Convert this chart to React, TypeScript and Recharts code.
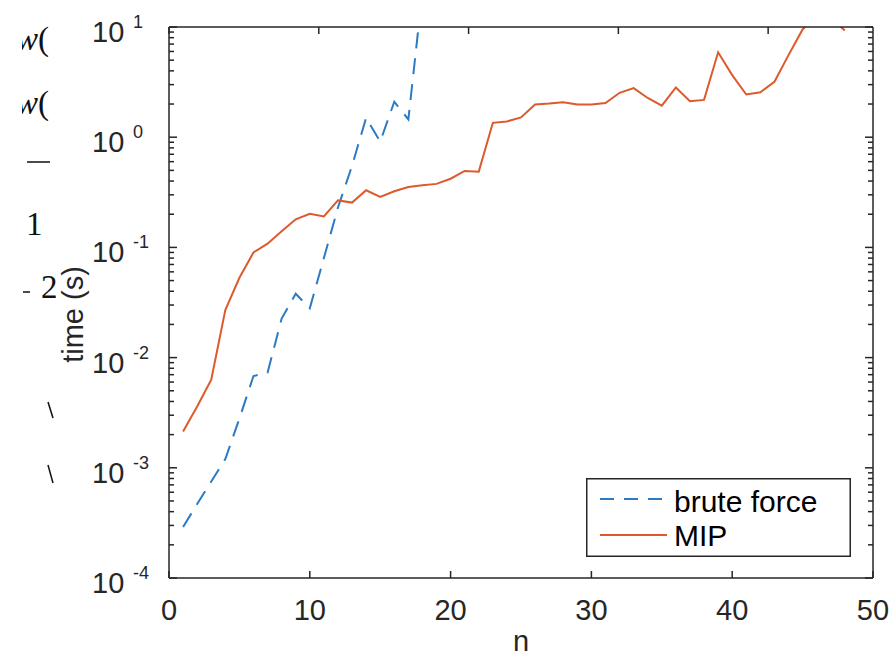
import { LineChart, Line, XAxis, YAxis, Legend } from "recharts";

const INK = "#262626";
const BLUE = "#2b7bc4";
const ORANGE = "#dc5a2c";
const FONT = "'Liberation Sans', Arial, Helvetica, sans-serif";

// problem size n
const N_BRUTE = [1, 2, 3, 4, 5, 6, 7, 8, 9, 10, 11, 12, 13, 14, 15, 16, 17, 18];
const N_MIP = [
  1, 2, 3, 4, 5, 6, 7, 8, 9, 10, 11, 12, 13, 14, 15, 16, 17, 18, 19, 20, 21, 22, 23, 24,
  25, 26, 27, 28, 29, 30, 31, 32, 33, 34, 35, 36, 37, 38, 39, 40, 41, 42, 43, 44, 45, 46, 47, 48,
];

// time (s)
const BRUTE_FORCE = [
  0.00029, 0.00047, 0.00075, 0.0012, 0.0028, 0.0068, 0.0073, 0.0226, 0.038, 0.028, 0.08,
  0.23, 0.55, 1.5, 0.91, 2.1, 1.45, 21,
];
const MIP = [
  0.00214, 0.0036, 0.0063, 0.027, 0.053, 0.09, 0.108, 0.14, 0.18, 0.202, 0.191, 0.267, 0.255,
  0.33, 0.287, 0.323, 0.353, 0.366, 0.377, 0.42, 0.494, 0.487, 1.35, 1.39, 1.51, 1.98, 2.02,
  2.08, 1.98, 1.98, 2.04, 2.53, 2.79, 2.27, 1.93, 2.83, 2.12, 2.18, 5.89, 3.66, 2.44, 2.56,
  3.18, 5.56, 9.5, 13, 12, 9.3,
];

const X_TICKS = [0, 10, 20, 30, 40, 50];
const Y_DECADES = [1e-4, 1e-3, 1e-2, 1e-1, 1, 10];
const Y_MINOR = [2, 3, 4, 5, 6, 7, 8, 9];
const Y_TICKS = Y_DECADES.flatMap((d, i) =>
  i < Y_DECADES.length - 1 ? [d, ...Y_MINOR.map((k) => k * d)] : [d]
);

const rows = N_MIP.map((n, i) => ({
  n,
  mip: MIP[i],
  brute: N_BRUTE.indexOf(n) >= 0 ? BRUTE_FORCE[N_BRUTE.indexOf(n)] : undefined,
}));

const SERIES = [
  { key: "brute", name: "brute force", color: BLUE, dash: "16 10" },
  { key: "mip", name: "MIP", color: ORANGE, dash: undefined },
];

function decadeOf(v: number) {
  const l = Math.log10(v);
  return Math.abs(l - Math.round(l)) < 1e-6 ? Math.round(l) : null;
}

const TICK_W = 1.5;

function BottomTick({ x, y, payload }: any) {
  return (
    <g>
      <line x1={x} y1={y} x2={x} y2={y - 7} stroke={INK} strokeWidth={TICK_W} />
      <text x={x} y={y + 42} textAnchor="middle" fontSize={29} fill={INK} fontFamily={FONT}>
        {payload.value}
      </text>
    </g>
  );
}

function TopTick({ x, y }: any) {
  return <line x1={x} y1={y} x2={x} y2={y + 7} stroke={INK} strokeWidth={TICK_W} />;
}

function LeftTick({ x, y, payload }: any) {
  const e = decadeOf(payload.value);
  const len = e === null ? 5 : 8;
  return (
    <g>
      <line x1={x} y1={y} x2={x + len} y2={y} stroke={INK} strokeWidth={TICK_W} />
      {e !== null && (
        <text fill={INK} fontFamily={FONT}>
          <tspan x={92} y={y + 15} fontSize={29}>
            10
          </tspan>
          <tspan x={133} y={y + 1} fontSize={18}>
            {String(e)}
          </tspan>
        </text>
      )}
    </g>
  );
}

function RightTick({ x, y, payload }: any) {
  const len = decadeOf(payload.value) === null ? 5 : 8;
  return <line x1={x} y1={y} x2={x - len} y2={y} stroke={INK} strokeWidth={TICK_W} />;
}

function LegendBox() {
  return (
    <svg width={265} height={79} style={{ display: "block" }}>
      <rect x={0.75} y={0.75} width={263.5} height={77.5} fill="#fff" stroke={INK} strokeWidth={1.5} />
      {SERIES.map((s, i) => (
        <g key={s.key}>
          <line
            x1={14}
            x2={81}
            y1={21 + i * 36}
            y2={21 + i * 36}
            stroke={s.color}
            strokeWidth={2}
            strokeDasharray={s.dash ? "14 10" : undefined}
          />
          <text x={88} y={34 + i * 34} fontSize={30} fill="#000" fontFamily={FONT}>
            {s.name}
          </text>
        </g>
      ))}
    </svg>
  );
}

// cropped bits of the surrounding page, left of the figure
function PageScraps() {
  const serif = "'Liberation Serif', 'DejaVu Serif', serif";
  return (
    <svg width={60} height={500} style={{ position: "absolute", left: 0, top: 0 }}>
      <defs>
        <clipPath id="scrap">
          <rect x={22} y={0} width={34} height={500} />
        </clipPath>
      </defs>
      <g clipPath="url(#scrap)" fill="#111" fontFamily={serif} fontSize={33}>
        <text x={16} y={50}>
          <tspan fontStyle="italic">w</tspan>(
        </text>
        <text x={16} y={114}>
          <tspan fontStyle="italic">w</tspan>(
        </text>
        <line x1={27} x2={50} y1={162} y2={162} stroke="#111" strokeWidth={1.5} />
        <text x={26} y={235}>1</text>
        <line x1={23} x2={30} y1={292} y2={292} stroke="#111" strokeWidth={1.5} />
        <text x={41} y={298}>2</text>
        <line x1={48} x2={53} y1={402} y2={418} stroke="#111" strokeWidth={1.5} />
        <line x1={48} x2={53} y1={465} y2={483} stroke="#111" strokeWidth={1.5} />
      </g>
    </svg>
  );
}

export default function App() {
  return (
    <div style={{ position: "absolute", left: 0, top: 0, width: 896, height: 658, background: "#fff" }}>
      <PageScraps />
      <LineChart width={896} height={658} data={rows} margin={{ top: 0, right: 0, bottom: 0, left: 0 }}>
        <XAxis
          xAxisId="bottom"
          dataKey="n"
          type="number"
          domain={[0, 50]}
          ticks={X_TICKS}
          interval={0}
          height={80}
          tickSize={0}
          tickMargin={0}
          tickLine={false}
          tick={BottomTick}
          axisLine={{ stroke: INK, strokeWidth: 1.5 }}
          allowDataOverflow
          label={{ value: "n", position: "insideBottom", offset: 7, fontSize: 29, fill: INK, fontFamily: FONT }}
        />
        <XAxis
          xAxisId="top"
          orientation="top"
          type="number"
          domain={[0, 50]}
          ticks={X_TICKS}
          interval={0}
          height={27}
          tickSize={0}
          tickMargin={0}
          tickLine={false}
          tick={TopTick}
          axisLine={{ stroke: INK, strokeWidth: 1.5 }}
          allowDataOverflow
        />
        <YAxis
          yAxisId="left"
          scale="log"
          type="number"
          domain={[1e-4, 10]}
          ticks={Y_TICKS}
          interval={0}
          width={169}
          tickSize={0}
          tickMargin={0}
          tickLine={false}
          tick={LeftTick}
          axisLine={{ stroke: INK, strokeWidth: 1.5 }}
          allowDataOverflow
          label={{
            value: "time (s)",
            angle: -90,
            position: "center",
            dx: -12,
            dy: 12,
            fontSize: 29,
            fill: INK,
            fontFamily: FONT,
          }}
        />
        <YAxis
          yAxisId="right"
          orientation="right"
          scale="log"
          type="number"
          domain={[1e-4, 10]}
          ticks={Y_TICKS}
          interval={0}
          width={23}
          tickSize={0}
          tickMargin={0}
          tickLine={false}
          tick={RightTick}
          axisLine={{ stroke: INK, strokeWidth: 1.5 }}
          allowDataOverflow
        />
        {SERIES.map((s) => (
          <Line
            key={s.key}
            xAxisId="bottom"
            yAxisId="left"
            dataKey={s.key}
            name={s.name}
            type="linear"
            stroke={s.color}
            strokeWidth={2}
            strokeDasharray={s.dash}
            dot={false}
            activeDot={false}
            isAnimationActive={false}
          />
        ))}
        <Legend
          layout="horizontal"
          verticalAlign="middle"
          align="center"
          content={() => <LegendBox />}
          wrapperStyle={{ left: 586, top: 478, width: 265, height: 79 }}
        />
      </LineChart>
    </div>
  );
}
